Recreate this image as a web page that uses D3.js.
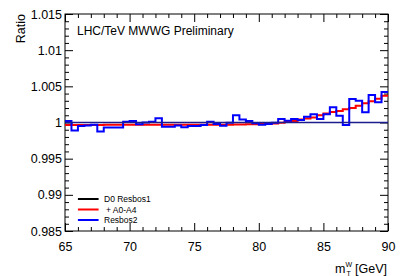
<!DOCTYPE html>
<html>
<head>
<meta charset="utf-8">
<script src="https://cdn.jsdelivr.net/npm/d3@7"></script>
<style>
  html, body { margin: 0; padding: 0; background: #fff; }
  svg { display: block; font-family: "Liberation Sans", Arial, Helvetica, sans-serif; }
</style>
</head>
<body>
<svg id="chart" width="407" height="276"></svg>
<script>
// ---------- data ----------
const binLow = [65,65.5,66,66.5,67,67.5,68,68.5,69,69.5,
                70,70.5,71,71.5,72,72.5,73,73.5,74,74.5,
                75,75.5,76,76.5,77,77.5,78,78.5,79,79.5,
                80,80.5,81,81.5,82,82.5,83,83.5,84,84.5,
                85,85.5,86,86.5,87,87.5,88,88.5,89,89.5];
const binWidth = 0.5;

const resbos1 = [1,1,1,1,1,1,1,1,1,1, 1,1,1,1,1,1,1,1,1,1, 1,1,1,1,1,1,1,1,1,1,
                 1,1,1,1,1,1,1,1,1,1, 1,1,1,1,1,1,1,1,1,1];

const plusA0A4 = [0.99965,0.99965,0.99965,0.99965,0.99965,0.99965,0.99968,0.99968,0.99968,0.9997,
                  0.9997,0.9997,0.9997,0.9997,0.9997,0.9997,0.9997,0.9997,0.9997,0.9997,
                  0.9997,0.9997,0.9997,0.9997,0.9997,0.9997,0.99972,0.99974,0.99975,0.99976,
                  0.99978,0.9998,0.99985,0.99995,1.0001,1.00022,1.00042,1.00055,1.0007,1.001,
                  1.00124,1.00146,1.0016,1.00184,1.002,1.0023,1.00265,1.00295,1.0033,1.0037];

const resbos2 = [1.0002,0.9989,0.9995,0.9996,0.9997,0.99875,0.9993,0.9993,0.9993,1.0001,
                 1.0002,0.99975,1.0000,1.0001,1.0006,0.9994,0.9994,0.9996,0.99935,0.9995,
                 0.9995,0.99965,1.0001,0.9998,0.99955,0.99995,1.0010,1.0004,1.0002,0.9999,
                 0.9997,0.9998,0.99995,1.00048,1.00025,1.00048,1.00035,1.0008,1.00113,1.00048,
                 1.00113,1.0021,1.00094,0.99965,1.00325,1.0030,1.0014,1.0038,1.0028,1.0042];

const xTickValues = [65,70,75,80,85,90];
const xTickLabels = ["65","70","75","80","85","90"];
const yTickValues = [0.985,0.99,0.995,1,1.005,1.01,1.015];
const yTickLabels = ["0.985","0.99","0.995","1","1.005","1.01","1.015"];

const legendLabels = ["D0 Resbos1","+ A0-A4","Resbos2"];
const seriesColors = ["#000000","#ff0000","#0000ff"];
const titleText = "LHC/TeV MWWG Preliminary";

// ---------- layout ----------
const W = 407, H = 276;
const m = {left: 65, right: 19, top: 14, bottom: 45};
const pw = W - m.left - m.right, ph = H - m.top - m.bottom;

const svg = d3.select("#chart");
const x = d3.scaleLinear().domain([65, 90]).range([m.left, m.left + pw]);
const y = d3.scaleLinear().domain([0.985, 1.015]).range([m.top + ph, m.top]);

const xMinor = d3.range(65, 90.001, 1).filter(v => !xTickValues.includes(v));
const yMinor = d3.range(0, 31).map(i => +(0.985 + i * 0.001).toFixed(3)).filter(v => !yTickValues.some(t => Math.abs(t - v) < 1e-9));

function styleAxis(g) {
  g.select(".domain").remove();
  g.selectAll("line").attr("stroke", "#000").attr("stroke-width", 1);
  g.selectAll("text").attr("fill", "#000");
}

// bottom axis
svg.append("g").attr("transform", `translate(0,${m.top + ph})`)
  .call(d3.axisBottom(x).tickValues(xTickValues).tickSize(-8).tickPadding(11)
        .tickFormat((d, i) => xTickLabels[i]))
  .call(styleAxis)
  .call(g => g.selectAll("text").attr("font-size", 12.5).attr("font-family", "Liberation Sans, Arial, sans-serif"));
svg.append("g").attr("transform", `translate(0,${m.top + ph})`)
  .call(d3.axisBottom(x).tickValues(xMinor).tickSize(-4).tickFormat(""))
  .call(styleAxis);
// top axis
svg.append("g").attr("transform", `translate(0,${m.top})`)
  .call(d3.axisTop(x).tickValues(xTickValues).tickSize(-8).tickFormat(""))
  .call(styleAxis);
svg.append("g").attr("transform", `translate(0,${m.top})`)
  .call(d3.axisTop(x).tickValues(xMinor).tickSize(-4).tickFormat(""))
  .call(styleAxis);
// left axis
svg.append("g").attr("transform", `translate(${m.left},0)`)
  .call(d3.axisLeft(y).tickValues(yTickValues).tickSize(-8).tickPadding(3)
        .tickFormat((d, i) => yTickLabels[i]))
  .call(styleAxis)
  .call(g => g.selectAll("text").attr("font-size", 12.5).attr("font-family", "Liberation Sans, Arial, sans-serif"));
svg.append("g").attr("transform", `translate(${m.left},0)`)
  .call(d3.axisLeft(y).tickValues(yMinor).tickSize(-4).tickFormat(""))
  .call(styleAxis);
// right axis
svg.append("g").attr("transform", `translate(${m.left + pw},0)`)
  .call(d3.axisRight(y).tickValues(yTickValues).tickSize(-8).tickFormat(""))
  .call(styleAxis);
svg.append("g").attr("transform", `translate(${m.left + pw},0)`)
  .call(d3.axisRight(y).tickValues(yMinor).tickSize(-4).tickFormat(""))
  .call(styleAxis);

// frame
svg.append("rect").attr("x", m.left).attr("y", m.top).attr("width", pw).attr("height", ph)
  .attr("fill", "none").attr("stroke", "#000").attr("stroke-width", 1);

// ---------- histograms ----------
function stepPoints(vals) {
  const pts = [];
  vals.forEach((v, i) => { pts.push([binLow[i], v]); pts.push([binLow[i] + binWidth, v]); });
  return pts;
}
const line = d3.line().x(d => x(d[0])).y(d => y(d[1]));

const plot = svg.append("g");
plot.append("path").datum(stepPoints(plusA0A4)).attr("d", line)
  .attr("fill", "none").attr("stroke", seriesColors[1]).attr("stroke-width", 2);
plot.append("path").datum(stepPoints(resbos2)).attr("d", line)
  .attr("fill", "none").attr("stroke", seriesColors[2]).attr("stroke-width", 2);
plot.append("path").datum(stepPoints(resbos1)).attr("d", line)
  .attr("fill", "none").attr("stroke", "#1c1c8c").attr("stroke-width", 1.5);

// ---------- text ----------
svg.append("text").attr("x", 77).attr("y", 35).attr("font-size", 12).attr("fill", "#000")
  .text(titleText);

svg.append("text").attr("transform", "translate(25,14) rotate(-90)")
  .attr("text-anchor", "end").attr("font-size", 12.5).attr("fill", "#000").text("Ratio");

// x-axis title: m with stacked sub/superscript, then [GeV]
svg.append("text").attr("x", 335).attr("y", 273).attr("font-size", 12.5).attr("fill", "#000").text("m");
svg.append("text").attr("x", 345.5).attr("y", 266.5).attr("font-size", 7).attr("fill", "#000").text("W");
svg.append("text").attr("x", 346.5).attr("y", 275.5).attr("font-size", 7).attr("fill", "#000").text("T");
svg.append("text").attr("x", 355).attr("y", 273).attr("font-size", 12.5).attr("fill", "#000").text("[GeV]");

// ---------- legend ----------
const legY = [199, 209.5, 220];
const legX = [104, 106, 104];
legendLabels.forEach((lab, i) => {
  svg.append("line").attr("x1", x(66)).attr("x2", x(67.6)).attr("y1", legY[i]).attr("y2", legY[i])
    .attr("stroke", seriesColors[i]).attr("stroke-width", 2);
  svg.append("text").attr("x", legX[i]).attr("y", legY[i] + 3.2).attr("font-size", 8.5)
    .attr("fill", "#000").text(lab);
});
</script>
</body>
</html>
